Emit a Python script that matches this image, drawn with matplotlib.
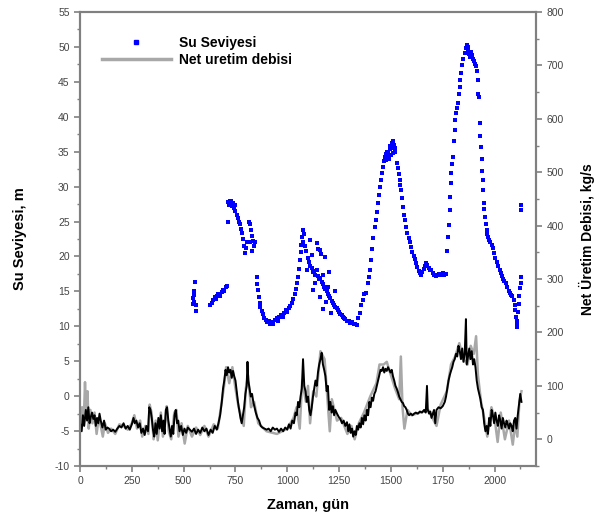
import numpy as np
import matplotlib
matplotlib.use("Agg")
import matplotlib.pyplot as plt
from matplotlib.lines import Line2D
from matplotlib.ticker import MultipleLocator

plt.rcParams['font.family'] = ['Liberation Sans', 'DejaVu Sans']
plt.rcParams['axes.unicode_minus'] = False

# su seviyesi olcumleri (gun, m)
level_pts = [
    (545, 14.0), (547, 13.2), (548, 15.0), (550, 13.5), (552, 14.5), (555, 16.3), (558, 13.0), (560, 12.2),
    (628, 13.0), (635, 13.4), (642, 13.8), (650, 14.2), (655, 13.9), (662, 14.4), (668, 14.6), (675, 14.3),
    (683, 14.9), (690, 15.2), (697, 15.0), (705, 15.6), (710, 15.8),
    (712, 25.0), (715, 27.8), (718, 27.3), (722, 28.0), (726, 27.5), (730, 27.9), (734, 27.2), (738, 27.6),
    (742, 27.0), (746, 27.4), (750, 26.5), (755, 26.0), (760, 25.5), (765, 25.0), (770, 24.6), (775, 24.0),
    (780, 23.4), (785, 22.5), (790, 21.5), (795, 20.5), (800, 21.2), (805, 22.0), (815, 25.0), (820, 24.6),
    (825, 23.8), (830, 23.0), (835, 22.2), (840, 21.5), (845, 22.0), (820, 22.0), (828, 20.8),
    (853, 17.0), (856, 16.0), (858, 15.2), (862, 14.2), (866, 13.4), (870, 12.8), (876, 12.2), (882, 11.8),
    (888, 11.2), (895, 10.9), (902, 10.6), (910, 10.8), (918, 10.3), (925, 10.6), (932, 10.4), (940, 10.9),
    (948, 11.2), (955, 10.8), (962, 11.3), (970, 11.6), (978, 11.4), (985, 11.9), (992, 12.3), (1000, 12.0),
    (1008, 12.6), (1015, 12.9), (1022, 13.4), (1030, 13.9), (1036, 14.6), (1042, 15.3), (1048, 16.2),
    (1052, 17.1), (1056, 18.2), (1060, 19.5), (1064, 20.6), (1068, 21.6), (1072, 22.8), (1076, 23.8),
    (1080, 23.2), (1074, 22.0),
    (1085, 21.5), (1092, 20.8), (1100, 19.8), (1106, 19.2), (1112, 18.7), (1118, 18.3), (1124, 17.8),
    (1130, 17.9), (1136, 17.4), (1142, 18.0), (1148, 17.2), (1154, 16.8), (1160, 16.9), (1166, 16.3),
    (1172, 16.0), (1178, 15.6), (1184, 15.4), (1190, 15.0), (1196, 14.6), (1202, 14.4), (1208, 14.0),
    (1214, 13.6), (1220, 13.4), (1226, 13.0), (1232, 12.8), (1238, 12.6), (1244, 12.3), (1250, 12.0),
    (1256, 11.8), (1262, 11.6), (1268, 11.4), (1274, 11.2), (1280, 11.0), (1288, 10.8), (1296, 10.7),
    (1304, 10.5), (1312, 10.6), (1320, 10.3), (1328, 10.4), (1335, 10.2),
    (1120, 20.2), (1141, 21.9), (1150, 21.0), (1157, 20.9), (1165, 20.3), (1181, 19.9), (1173, 17.4),
    (1124, 15.2), (1157, 14.2), (1197, 15.6), (1213, 11.9), (1188, 13.5), (1108, 22.4), (1095, 18.0),
    (1135, 16.2), (1203, 17.8), (1228, 15.0), (1170, 12.5),
    (1342, 11.2), (1350, 11.9), (1357, 13.0), (1364, 13.8), (1372, 14.6), (1381, 14.8), (1389, 16.2),
    (1395, 17.0), (1400, 18.0), (1405, 19.5), (1410, 21.0), (1416, 22.6), (1421, 24.2), (1426, 25.2),
    (1431, 26.3), (1436, 27.6), (1441, 28.8), (1446, 30.0), (1450, 31.0), (1455, 32.0), (1460, 32.8),
    (1465, 33.6), (1470, 34.2), (1476, 34.6), (1482, 35.0), (1488, 34.8), (1494, 35.4), (1498, 35.8),
    (1502, 35.5), (1506, 36.2), (1510, 36.5), (1514, 36.0), (1518, 35.6), (1522, 34.9), (1476, 33.8),
    (1484, 34.2), (1490, 33.9), (1500, 34.5), (1508, 34.8),
    (1527, 33.4), (1532, 32.6), (1537, 31.8), (1542, 31.0), (1546, 30.2), (1550, 29.5), (1554, 28.4),
    (1558, 27.1), (1563, 26.0), (1568, 25.2), (1574, 24.2), (1580, 23.3), (1586, 22.6), (1592, 22.0),
    (1598, 21.4), (1604, 20.7), (1610, 20.1), (1616, 19.6), (1622, 19.1), (1628, 18.5), (1634, 17.9),
    (1640, 17.6),
    (1646, 17.4), (1652, 17.8), (1658, 18.2), (1664, 18.6), (1670, 19.0), (1676, 18.8), (1682, 18.3),
    (1688, 18.0), (1695, 18.1), (1702, 17.7), (1710, 17.4), (1718, 17.2), (1726, 17.3), (1734, 17.5),
    (1742, 17.4), (1750, 17.6), (1758, 17.3), (1765, 17.5),
    (1772, 20.8), (1775, 22.8), (1779, 24.5), (1783, 26.6), (1785, 28.5), (1789, 30.5), (1791, 31.9),
    (1796, 33.2), (1800, 34.2), (1804, 36.5), (1807, 38.1), (1811, 39.5), (1815, 40.5), (1819, 41.3),
    (1823, 42.0), (1827, 43.2), (1831, 44.2), (1835, 45.3), (1840, 46.3), (1845, 47.4), (1850, 48.3),
    (1856, 49.1), (1861, 49.8), (1866, 50.3), (1870, 50.0), (1874, 49.5), (1878, 49.0), (1882, 48.6),
    (1886, 49.3), (1890, 48.8), (1895, 48.3), (1900, 48.0), (1905, 47.6), (1910, 47.2), (1914, 46.5),
    (1918, 45.3), (1921, 43.2), (1925, 42.8),
    (1928, 39.1), (1932, 37.2), (1936, 35.7), (1938, 34.0), (1940, 32.3), (1942, 31.0), (1944, 29.5),
    (1947, 27.6), (1950, 26.8), (1954, 25.6), (1958, 24.6), (1962, 23.8), (1966, 23.2), (1970, 22.8),
    (1975, 22.3), (1980, 22.0), (1986, 21.6), (1992, 21.2), (1998, 20.5), (2004, 19.8), (2010, 19.2),
    (2016, 18.6), (2024, 18.1), (2030, 17.6), (2036, 17.2), (2042, 16.8), (2048, 16.5), (2056, 16.2),
    (2062, 15.6), (2068, 15.1), (2074, 14.7), (2080, 14.5), (2086, 14.3), (2092, 13.8), (2097, 13.0),
    (2101, 12.3), (2104, 11.4), (2106, 10.5), (2108, 9.9), (2110, 10.8), (2113, 12.0), (2116, 13.2),
    (2120, 14.4), (2124, 15.5), (2126, 16.2), (2128, 17.0), (2129, 26.6), (2130, 27.4),
]

# net uretim debisi (gun, kg/s) - ham kayit
flow_raw = [
    (0, 20), (10, 60), (18, 30), (24, 107), (30, 40), (36, 90), (42, 20), (50, 55), (60, 30), (70, 50),
    (80, 10), (90, 40), (100, 25), (110, 5), (120, 30), (135, 12), (150, 20), (170, 10), (190, 28),
    (210, 25), (230, 18), (250, 30), (262, 45), (275, 20), (290, 35), (300, 5), (315, 25), (330, 10),
    (336, 65), (345, 50), (355, 0), (365, 35), (375, -2), (390, 50), (400, 5), (412, 40), (418, 62),
    (428, 15), (440, 0), (455, 50), (465, 55), (475, 5), (490, 30), (505, -8), (520, 25), (540, 5),
    (560, 22), (580, 8), (600, 25), (620, 5), (645, 28), (665, 20), (680, 60), (695, 100), (705, 135),
    (720, 105), (735, 135), (750, 95), (765, 60), (790, 25), (800, 95), (810, 120), (825, 60), (840, 70),
    (860, 30), (900, 15), (950, 10), (1000, 20), (1030, 40), (1045, 60), (1060, 20), (1072, 110),
    (1090, 70), (1100, 100), (1110, 30), (1125, 90), (1140, 80), (1160, 165), (1180, 150), (1195, 70),
    (1205, 15), (1215, 75), (1240, 35), (1260, 40), (1290, 10), (1310, 25), (1325, 0), (1345, 30),
    (1370, 50), (1400, 80), (1430, 105), (1445, 140), (1465, 140), (1480, 145), (1500, 120), (1520, 95),
    (1540, 75), (1548, 155), (1556, 60), (1565, 20), (1580, 55), (1600, 45), (1640, 50), (1680, 55),
    (1700, 40), (1720, 25), (1740, 65), (1770, 90), (1790, 140), (1810, 155), (1830, 180), (1850, 150),
    (1870, 140), (1885, 175), (1900, 160), (1911, 193), (1920, 120), (1935, 70), (1950, 40), (1965, 5),
    (1985, 60), (2000, 40), (2015, -5), (2030, 50), (2050, 0), (2070, 35), (2088, -10), (2100, 30),
    (2110, 5), (2120, 70), (2130, 90),
]

# net uretim debisi (gun, kg/s)
flow_pts = [
    (0, 30), (8, 15), (14, 45), (20, 25), (28, 55), (34, 35), (40, 60), (46, 30), (52, 42), (58, 50),
    (64, 38), (70, 45), (76, 25), (82, 40), (88, 30), (94, 48), (100, 35), (108, 22), (116, 35), (124, 18),
    (132, 22), (140, 20), (150, 15), (160, 18), (170, 14), (180, 20), (190, 25), (200, 22), (210, 30),
    (220, 20), (230, 25), (240, 18), (250, 28), (258, 40), (264, 30), (272, 35), (280, 22), (288, 30),
    (296, 12), (304, 20), (312, 8), (320, 25), (328, 15), (334, 60), (340, 55), (346, 40), (352, 18),
    (358, 5), (364, 30), (370, 10), (378, 40), (384, 20), (390, 45), (396, 15), (402, 35), (408, 10),
    (414, 55), (420, 60), (426, 35), (432, 20), (438, 5), (444, 25), (450, 10), (456, 45), (462, 55),
    (468, 30), (474, 35), (480, 15), (488, 25), (496, 8), (504, 20), (512, 12), (520, 22), (530, 18),
    (540, 14), (550, 20), (560, 10), (570, 18), (580, 12), (590, 22), (600, 15), (610, 20), (620, 8),
    (630, 18), (640, 12), (650, 25), (660, 18), (668, 30), (676, 45), (684, 70), (690, 95), (696, 110),
    (702, 130), (708, 120), (714, 135), (720, 125), (726, 130), (732, 115), (738, 128), (744, 118),
    (750, 110), (756, 90), (762, 70), (768, 55), (774, 40), (780, 30), (786, 45), (792, 60), (798, 85),
    (804, 100), (808, 145), (812, 110), (818, 95), (824, 80), (830, 85), (836, 70), (842, 60), (848, 50),
    (856, 40), (864, 35), (872, 25), (880, 22), (890, 20), (900, 18), (910, 20), (920, 15), (930, 22),
    (940, 18), (950, 20), (960, 14), (970, 20), (980, 15), (990, 22), (1000, 18), (1008, 28), (1016, 20),
    (1024, 35), (1032, 30), (1040, 50), (1046, 45), (1052, 70), (1058, 60), (1064, 80), (1070, 95),
    (1076, 150), (1082, 100), (1088, 90), (1094, 70), (1100, 80), (1106, 55), (1112, 45), (1118, 60),
    (1124, 80), (1130, 95), (1136, 110), (1142, 100), (1148, 125), (1154, 140), (1160, 150), (1166, 162),
    (1172, 140), (1178, 130), (1184, 118), (1190, 90), (1196, 100), (1202, 55), (1208, 70), (1214, 50),
    (1220, 62), (1226, 45), (1232, 55), (1240, 48), (1248, 42), (1256, 38), (1264, 30), (1272, 35),
    (1280, 25), (1288, 32), (1294, 15), (1300, 28), (1306, 12), (1312, 20), (1318, 5), (1324, 15),
    (1330, 8), (1336, 25), (1342, 18), (1348, 30), (1354, 22), (1360, 40), (1366, 28), (1372, 45),
    (1378, 35), (1384, 55), (1390, 45), (1396, 70), (1402, 60), (1408, 78), (1414, 72), (1420, 85),
    (1426, 90), (1432, 100), (1438, 110), (1444, 120), (1450, 130), (1456, 128), (1462, 135), (1468, 125),
    (1474, 132), (1480, 128), (1486, 135), (1492, 130), (1498, 125), (1504, 130), (1510, 118), (1516, 110),
    (1522, 100), (1528, 95), (1534, 88), (1540, 80), (1546, 75), (1552, 70), (1558, 68), (1564, 62),
    (1570, 60), (1576, 55), (1582, 48), (1588, 45), (1596, 48), (1604, 45), (1612, 48), (1620, 50),
    (1630, 48), (1640, 52), (1650, 50), (1660, 55), (1668, 50), (1674, 100), (1678, 55), (1684, 48),
    (1690, 52), (1696, 40), (1702, 48), (1708, 55), (1714, 30), (1720, 55), (1730, 60), (1740, 58),
    (1750, 62), (1760, 70), (1766, 80), (1772, 95), (1778, 110), (1784, 120), (1790, 128), (1796, 135),
    (1802, 145), (1808, 150), (1814, 160), (1820, 155), (1826, 175), (1832, 165), (1838, 150), (1844, 170),
    (1850, 145), (1856, 160), (1862, 225), (1866, 140), (1872, 155), (1878, 170), (1884, 150), (1890, 165),
    (1896, 140), (1902, 150), (1908, 135), (1914, 110), (1920, 95), (1926, 85), (1932, 75), (1938, 60),
    (1944, 55), (1950, 30), (1956, 15), (1962, 25), (1968, 10), (1974, 40), (1980, 25), (1986, 55),
    (1992, 45), (1998, 30), (2004, 50), (2010, 35), (2016, 25), (2022, 45), (2028, 35), (2034, 20),
    (2040, 40), (2046, 30), (2052, 22), (2058, 35), (2064, 28), (2070, 20), (2076, 30), (2082, 25),
    (2088, 15), (2094, 35), (2100, 40), (2106, 20), (2112, 45), (2118, 65), (2124, 85), (2130, 70),
]

level_days, level_m = np.array(level_pts).T
raw_days, raw_flow = np.array(flow_raw).T
flow_days, flow = np.array(flow_pts).T

fig = plt.figure(figsize=(5.99, 5.22), dpi=100)
ax = fig.add_axes([0.1336, 0.1073, 0.7612, 0.8697])
ax2 = ax.twinx()

spine_c = '#808080'
tick_c = '#444444'

ax2.plot(raw_days, raw_flow, color='#a8a8a8', lw=1.8, zorder=1)
ax2.plot(flow_days, flow, color='black', lw=1.4, zorder=2)
ax.scatter(level_days, level_m, s=9, marker='s', color='#0000ff', linewidths=0, zorder=3)
ax.set_zorder(ax2.get_zorder() + 1)
ax.patch.set_visible(False)

ax.set_xlim(0, 2200)
ax.set_ylim(-10, 55)
ax2.set_ylim(-50, 800)

ax.set_xticks(np.arange(0, 2001, 250))
ax.xaxis.set_minor_locator(MultipleLocator(125))
ax.yaxis.set_major_locator(MultipleLocator(5))
ax.yaxis.set_minor_locator(MultipleLocator(2.5))
ax2.set_yticks(np.arange(0, 801, 100))
ax2.yaxis.set_minor_locator(MultipleLocator(50))

for a in (ax, ax2):
    for sp in a.spines.values():
        sp.set_color(spine_c)
        sp.set_linewidth(1.5)
    a.tick_params(which='both', direction='out', colors=spine_c, labelcolor=tick_c, labelsize=7.5)
    a.tick_params(which='major', length=4, width=1.2)
    a.tick_params(which='minor', length=2.5, width=1.0)

ax.set_xlabel('Zaman, gün', fontsize=10.5, fontweight='bold', labelpad=8)
ax.set_ylabel('Su Seviyesi, m', fontsize=10.5, fontweight='bold', labelpad=20)
ax2.set_ylabel('Net Üretim Debisi, kg/s', fontsize=10, fontweight='bold', labelpad=11)

handles = [
    Line2D([], [], ls='none', marker='s', ms=3, color='#0000ff'),
    Line2D([], [], color='#a8a8a8', lw=2.5),
]
ax.legend(handles, ['Su Seviyesi', 'Net uretim debisi'], loc='upper left',
          bbox_to_anchor=(0.02, 0.975), frameon=False, handlelength=5.0,
          handletextpad=0.6, labelspacing=0.25, prop={'weight': 'bold', 'size': 10})

fig.savefig('out.png', dpi=100)
